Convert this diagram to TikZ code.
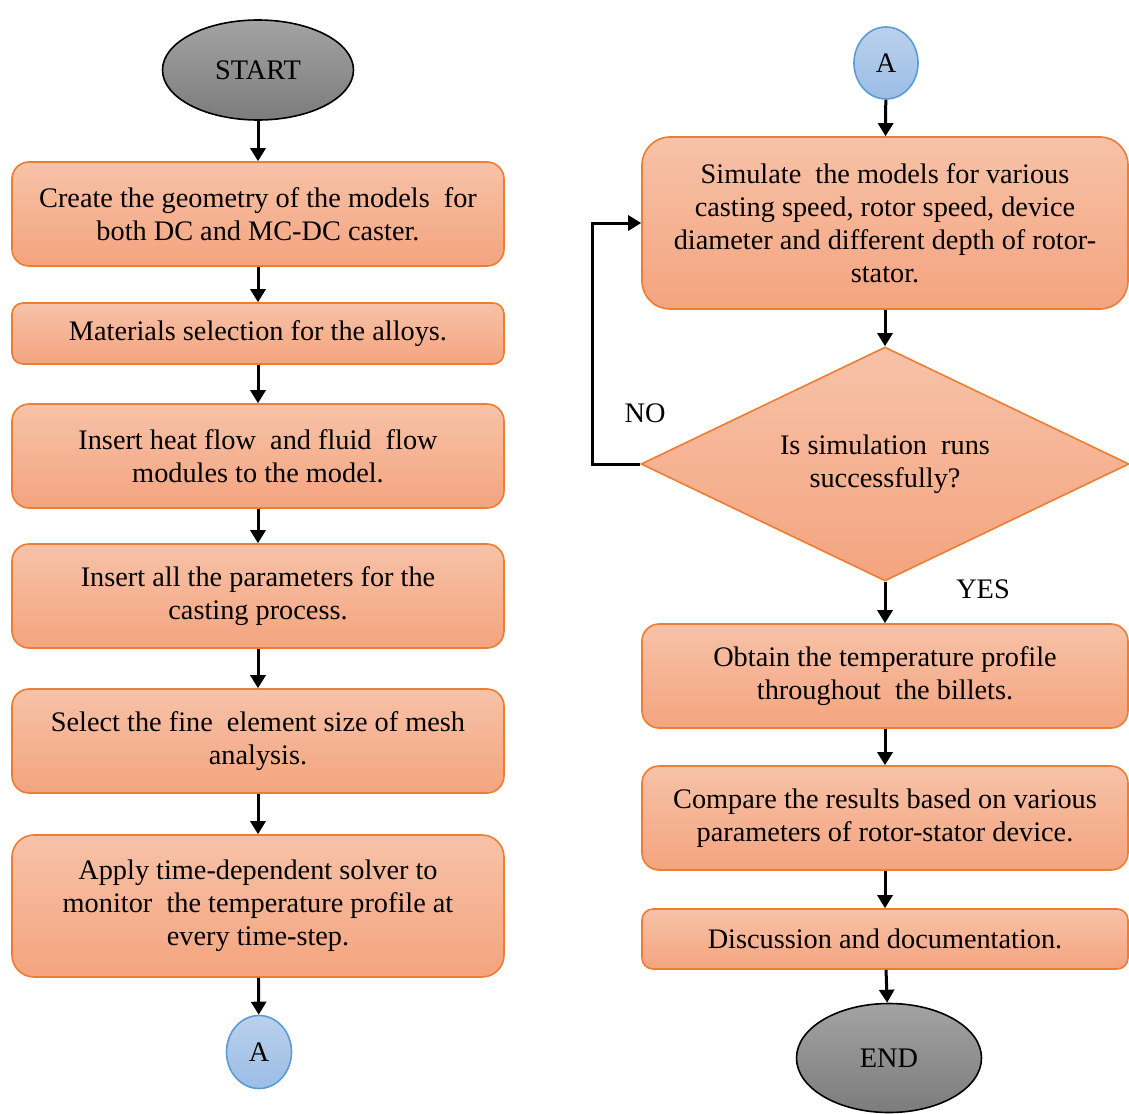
\documentclass[tikz,border=0pt]{standalone}
\usepackage{fontspec}
\setmainfont{Liberation Serif}
\usetikzlibrary{shapes.geometric,arrows.meta}
\definecolor{bordor}{HTML}{ED7D31}
\definecolor{peachtop}{HTML}{F7C2A8}
\definecolor{peachbot}{HTML}{F4A47F}
\definecolor{graytop}{HTML}{A3A3A3}
\definecolor{graybot}{HTML}{7C7C7C}
\definecolor{bluetop}{HTML}{BAD1EC}
\definecolor{bluebot}{HTML}{9CBDE6}
\definecolor{blueline}{HTML}{5B9BD5}
\begin{document}
\begin{tikzpicture}[x=1pt,y=-1pt,
  every node/.style={font=\fontsize{28.3}{33}\selectfont, text=black},
  procbox/.style={draw=bordor, line width=1.6pt, top color=peachtop, bottom color=peachbot,
    minimum width=492pt, inner sep=0pt, align=center, rounded corners=17pt},
  rbox/.style={procbox, minimum width=486pt},
  termin/.style={ellipse, draw=black, line width=1.6pt, top color=graytop, bottom color=graybot, inner sep=0pt},
  conn/.style={ellipse, draw=blueline, line width=1.6pt, top color=bluetop, bottom color=bluebot, inner sep=0pt},
  decis/.style={diamond, aspect=2.5, draw=bordor, line width=1.6pt, top color=peachtop, bottom color=peachbot,
    minimum width=488pt, minimum height=234pt, inner sep=0pt, align=center},
  arr/.style={line width=3pt, -{Triangle[length=13pt,width=15pt]}}
]
\useasboundingbox (0,0) rectangle (1129,1113);

% left column
\node[termin, minimum width=191pt, minimum height=100pt] (start) at (258,70) {START};
\node[procbox, minimum height=104pt] (b1) at (258,214) {Create the geometry of the models~ for\\both DC and MC-DC caster.};
\node[procbox, minimum height=61pt, rounded corners=11pt] (b2) at (258,333.5) {Materials selection for the alloys.};
\node[procbox, minimum height=104pt] (b3) at (258,456) {Insert heat flow~ and fluid~ flow\\modules to the model.};
\node[procbox, minimum height=104pt] (b4) at (258,596) {Insert all the parameters for the\\casting process.};
\node[procbox, minimum height=104pt] (b5) at (258,741) {Select the fine~ element size of mesh\\analysis.};
\node[procbox, minimum height=142pt, rounded corners=22pt] (b6) at (258,906) {Apply time-dependent solver to\\monitor~ the temperature profile at\\every time-step.};
\node[conn, minimum width=65pt, minimum height=73pt] (aout) at (259,1052) {A};

\draw[arr] (start) -- (b1);
\draw[arr] (b1) -- (b2);
\draw[arr] (b2) -- (b3);
\draw[arr] (b3) -- (b4);
\draw[arr] (b4) -- (b5);
\draw[arr] (b5) -- (b6);
\draw[arr] (b6) -- (aout);

% right column
\node[conn, minimum width=64pt, minimum height=72pt] (ain) at (886,63) {A};
\node[rbox, minimum height=172pt, rounded corners=28pt] (r1) at (885,223) {Simulate~ the models for various\\casting speed, rotor speed, device\\diameter and different depth of rotor-\\stator.};
\node[decis] (dec) at (885,464) {Is simulation~ runs\\successfully?};
\node[rbox, minimum height=104pt] (r2) at (885,676) {Obtain the temperature profile\\throughout~ the billets.};
\node[rbox, minimum height=104pt] (r3) at (885,818) {Compare the results based on various\\parameters of rotor-stator device.};
\node[rbox, minimum height=60pt, rounded corners=11pt] (r4) at (885,939) {Discussion and documentation.};
\node[termin, minimum width=185pt, minimum height=109pt] (fin) at (889,1058) {END};

\node (nolab) at (645,413) {NO};
\node (yeslab) at (983,589) {YES};

\draw[arr] (ain) -- (r1);
\draw[arr] (r1) -- (dec);
\draw[arr] (dec) -- (r2);
\draw[arr] (r2) -- (r3);
\draw[arr] (r3) -- (r4);
\draw[arr] (r4) -- (fin);
\draw[arr] (dec.west) -- ++(-48,0) |- (r1.west);
\end{tikzpicture}
\end{document}
